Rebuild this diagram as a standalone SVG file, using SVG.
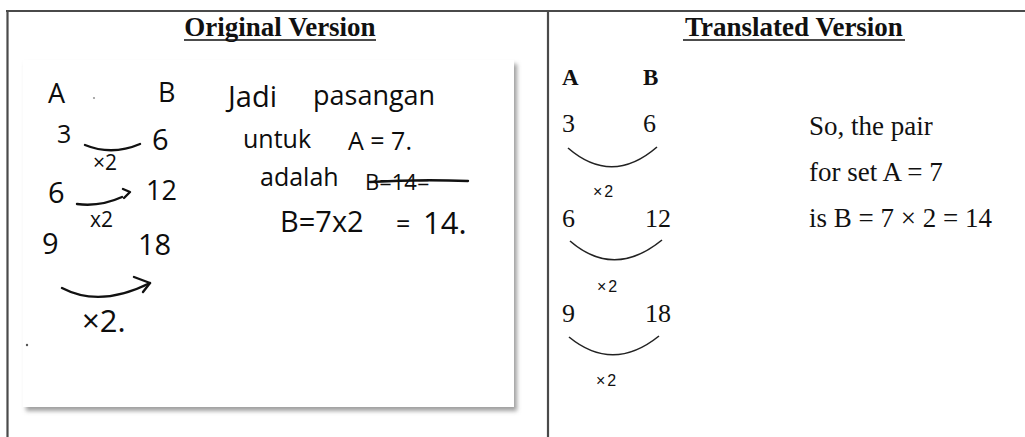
<svg xmlns="http://www.w3.org/2000/svg" width="1025" height="437" viewBox="0 0 1025 437">
<style>
.hdr{font-family:"Liberation Serif",serif;font-weight:bold;font-size:27px;fill:#111}
.hw{font-family:"Open Sans","DejaVu Sans",sans-serif;fill:#0d0d0d}
.tr{font-family:"Liberation Serif",serif;fill:#111}
.mul{font-family:"Liberation Sans",sans-serif;font-size:16px;fill:#111;letter-spacing:2px}
.ink{fill:none;stroke:#111;stroke-width:2.4;stroke-linecap:round;stroke-linejoin:round}
.arc{fill:none;stroke:#222;stroke-width:1.6}
.rule{stroke:#4a4a4a;stroke-width:2.2}
</style>
<defs>
<filter id="shadow" x="-5%" y="-5%" width="115%" height="115%">
<feDropShadow dx="3" dy="4" stdDeviation="2" flood-color="#777" flood-opacity="0.7"/>
</filter>
</defs>
<rect width="1025" height="437" fill="#fff"/>
<g id="table">
<line class="rule" x1="6" y1="11" x2="1025" y2="11"/>
<line class="rule" x1="7.5" y1="10" x2="7.5" y2="437"/>
<line class="rule" x1="548" y1="10" x2="548" y2="437"/>
</g>
<g id="header-original">
<text class="hdr" x="280" y="36" text-anchor="middle">Original Version</text>
<line x1="184" y1="40" x2="376" y2="40" stroke="#111" stroke-width="1.6"/>
</g>
<g id="header-translated">
<text class="hdr" x="794" y="36" text-anchor="middle">Translated Version</text>
<line x1="683" y1="40" x2="905" y2="40" stroke="#111" stroke-width="1.6"/>
</g>
<g id="photo">
<rect x="23" y="60" width="491" height="347" fill="#fff" filter="url(#shadow)"/>
<text class="hw" x="48" y="103" font-size="27">A</text>
<circle cx="94" cy="98" r="1.1" fill="#999"/>
<text class="hw" x="158" y="102" font-size="27">B</text>
<text class="hw" x="57" y="143" font-size="25">3</text>
<text class="hw" x="152" y="150" font-size="29">6</text>
<text class="hw" x="93" y="170" font-size="21">×2</text>
<text class="hw" x="48" y="203" font-size="29">6</text>
<text class="hw" x="146" y="200" font-size="27">12</text>
<text class="hw" x="90" y="227" font-size="21">x2</text>
<text class="hw" x="42" y="254" font-size="29">9</text>
<text class="hw" x="138" y="255" font-size="29">18</text>
<text class="hw" x="82" y="332" font-size="31">×2.</text>
<circle cx="27" cy="345" r="1.2" fill="#555"/>
<text class="hw" x="228" y="107" font-size="29">Jadi</text>
<text class="hw" x="313" y="105" font-size="27">pasangan</text>
<text class="hw" x="243" y="148" font-size="25">untuk</text>
<text class="hw" x="348" y="150" font-size="25">A = 7.</text>
<text class="hw" x="260" y="186" font-size="25">adalah</text>
<text class="hw" x="365" y="190" font-size="22">B=14=</text>
<path class="ink" d="M370,182 Q420,179 468,181"/>
<text class="hw" x="280" y="232" font-size="29">B=7x2</text>
<text class="hw" x="396" y="233" font-size="25">=</text>
<text class="hw" x="423" y="234" font-size="31">14.</text>
</g>
<g id="connectors">
<path class="ink" d="M85,145 Q112,156 140,144"/>
<path class="ink" d="M77,204 Q100,207 122,197"/>
<path class="ink" d="M123,189 L130,192 L124,198"/>
<path class="ink" d="M62,288 Q100,308 150,283"/>
<path class="ink" d="M134,277 L150,283 L143,292"/>
<path class="arc" d="M568,148 Q612,186 657,147"/>
<path class="arc" d="M570,241 Q614,279 662,240"/>
<path class="arc" d="M569,337 Q613,373 659,336"/>
</g>
<g id="translated">
<text class="tr" x="562" y="85" font-size="23" font-weight="bold">A</text>
<text class="tr" x="643" y="85" font-size="23" font-weight="bold">B</text>
<text class="tr" x="562" y="132" font-size="26">3</text>
<text class="tr" x="643" y="132" font-size="26">6</text>
<text class="mul" x="593" y="197">×2</text>
<text class="tr" x="562" y="227" font-size="26">6</text>
<text class="tr" x="645" y="227" font-size="26">12</text>
<text class="mul" x="597" y="292">×2</text>
<text class="tr" x="562" y="322" font-size="26">9</text>
<text class="tr" x="645" y="322" font-size="26">18</text>
<text class="mul" x="596" y="386">×2</text>
<text class="tr" x="809" y="135" font-size="27">So, the pair</text>
<text class="tr" x="809" y="181" font-size="27">for set A = 7</text>
<text class="tr" x="809" y="227" font-size="27">is B = 7 × 2 = 14</text>
</g>
</svg>
